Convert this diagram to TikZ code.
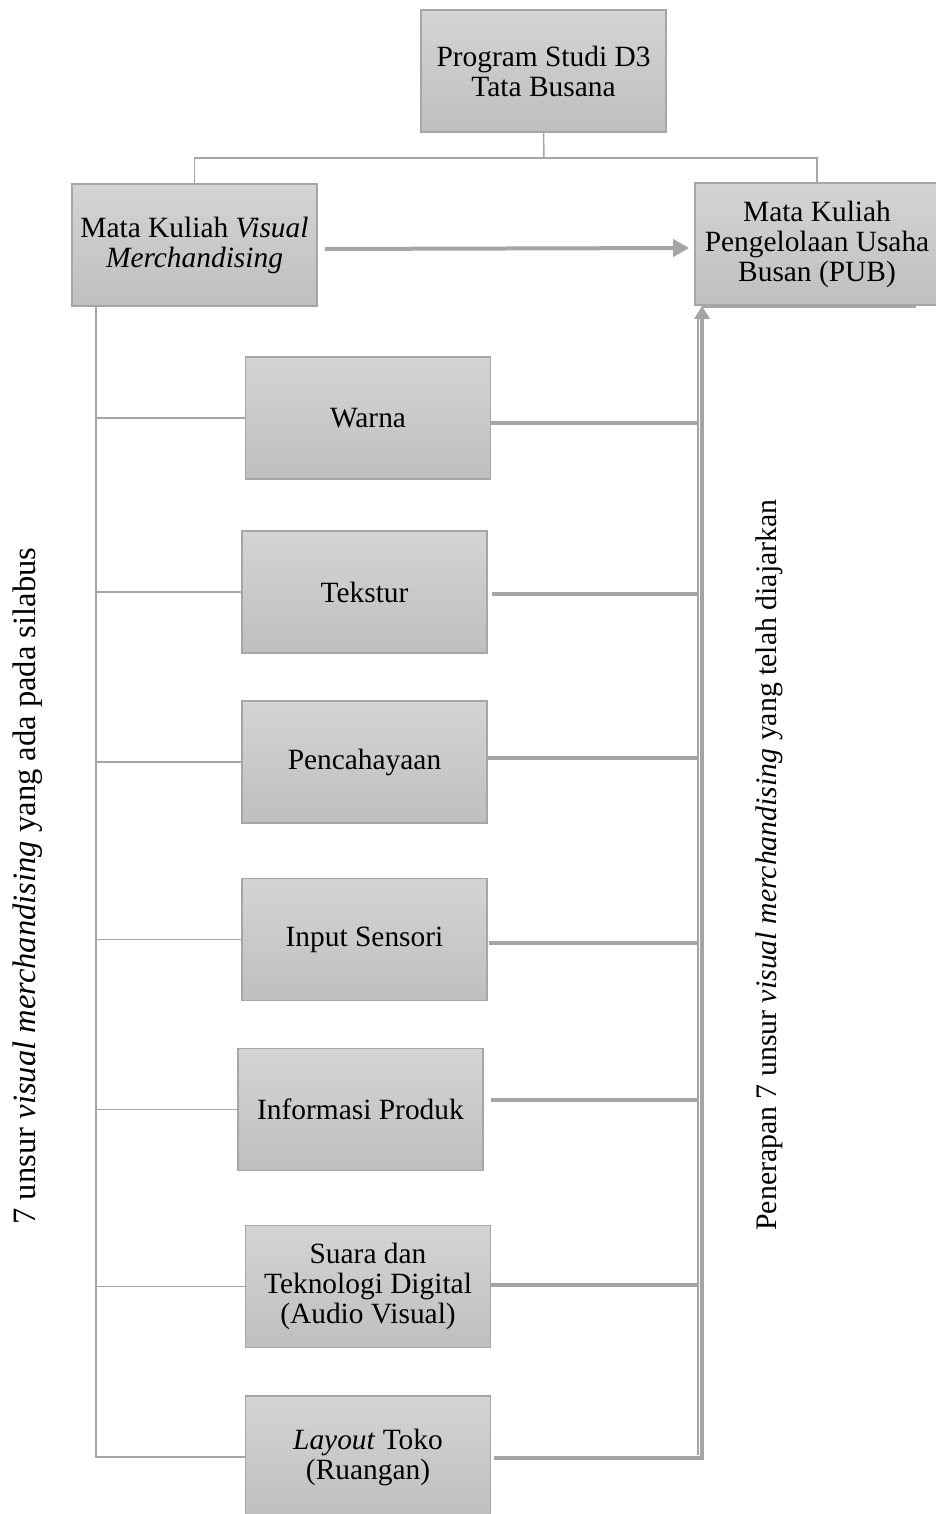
\documentclass[tikz,border=0pt]{standalone}
\usepackage{fontspec}
\setmainfont{Liberation Serif}
\usetikzlibrary{arrows.meta}
\definecolor{boxtop}{HTML}{D4D4D4}
\definecolor{boxbot}{HTML}{BFBFBF}
\definecolor{boxline}{HTML}{A6A6A6}
\definecolor{linegray}{HTML}{A5A5A5}

\begin{document}
\begin{tikzpicture}[x=0.5pt,y=-0.5pt,
        unsur/.style={draw=boxline,line width=0.9pt,top color=boxtop,bottom color=boxbot,
            minimum width=122.5pt,minimum height=61pt,inner sep=0pt,align=center,
            font=\fontsize{14.7}{15}\selectfont},
        tree/.style={draw=boxline,line width=0.75pt},
        bus/.style={draw=linegray,line width=2pt},
        sidetext/.style={font=\fontsize{14.9}{15}\selectfont,rotate=90}]
        \useasboundingbox (0,0) rectangle (936,1514);
        \node[unsur] (prodi) at (543.5,71) {Program Studi D3\\Tata Busana};
        \node[unsur] (vm) at (194.5,245) {Mata Kuliah \textit{Visual}\\\textit{Merchandising}};
        \node[unsur,minimum width=122pt] (pub) at (817,244) {Mata Kuliah\\Pengelolaan Usaha\\Busan (PUB)};
        \node[unsur] (warna) at (368,418) {Warna};
        \node[unsur] (tekstur) at (364.5,592) {Tekstur};
        \node[unsur] (pencah) at (364.5,762) {Pencahayaan};
        \node[unsur] (input) at (364.5,939.5) {Input Sensori};
        \node[unsur] (info) at (360.5,1109.5) {Informasi Produk};
        \node[unsur] (suara) at (368,1286.5) {Suara dan\\Teknologi Digital\\(Audio Visual)};
        \node[unsur] (lay) at (368,1457) {\textit{Layout} Toko\\(Ruangan)};
        \node[sidetext,font=\fontsize{16.3}{17}\selectfont] (silabus) at (28,886) {7 unsur \textit{visual merchandising} yang ada pada silabus};
        \node[sidetext] (terapan) at (769,865) {Penerapan 7 unsur \textit{visual merchandising} yang telah diajarkan};
        % struktur atas
        \coordinate (fork) at (544,158);
        \draw[tree] (prodi.south) -- (fork);
        \draw[tree] (vm.north) |- (fork) -| (pub.north);
        \draw[bus,-{Triangle[length=8pt,width=8.5pt]},shorten <=3.5pt,shorten >=2.5pt]
            ([yshift=-2pt]vm.east) -- ([yshift=-2pt]pub.west);
        % unsur di silabus
        \coordinate (lbus) at (96,306);
        \draw[tree] (lbus) |- (lay.west);
        \foreach \n in {warna,tekstur,pencah,input,info,suara}
            \draw[tree] (lbus |- \n.west) -- (\n.west);
        % penerapan ke PUB
        \coordinate (rbus) at (702,1458);
        \coordinate (ibus) at (698,1455);
        \draw[bus,-{Triangle[length=6.5pt,width=7.5pt]}] ([xshift=1.5pt,yshift=-0.5pt]lay.east) -- (rbus) -- (rbus |- pub.south);
        \draw[tree,draw=linegray,shorten >=6pt] (ibus) -- (ibus |- pub.south);
        \foreach \n/\dy/\gap in {warna/-2.5/0,tekstur/-1/2,pencah/2/0,input/-1.75/0.5,info/4.75/3.5,suara/0.75/0}
            \draw[bus,shorten <=\gap pt] ([yshift=\dy pt]\n.east) -- ([yshift=\dy pt]\n.east -| ibus);
        \draw[bus,line width=1.5pt] ([xshift=4pt,yshift=-0.5pt]pub.south west) -- ([xshift=-12pt,yshift=-0.5pt]pub.south east);
    \end{tikzpicture}
\end{document}
